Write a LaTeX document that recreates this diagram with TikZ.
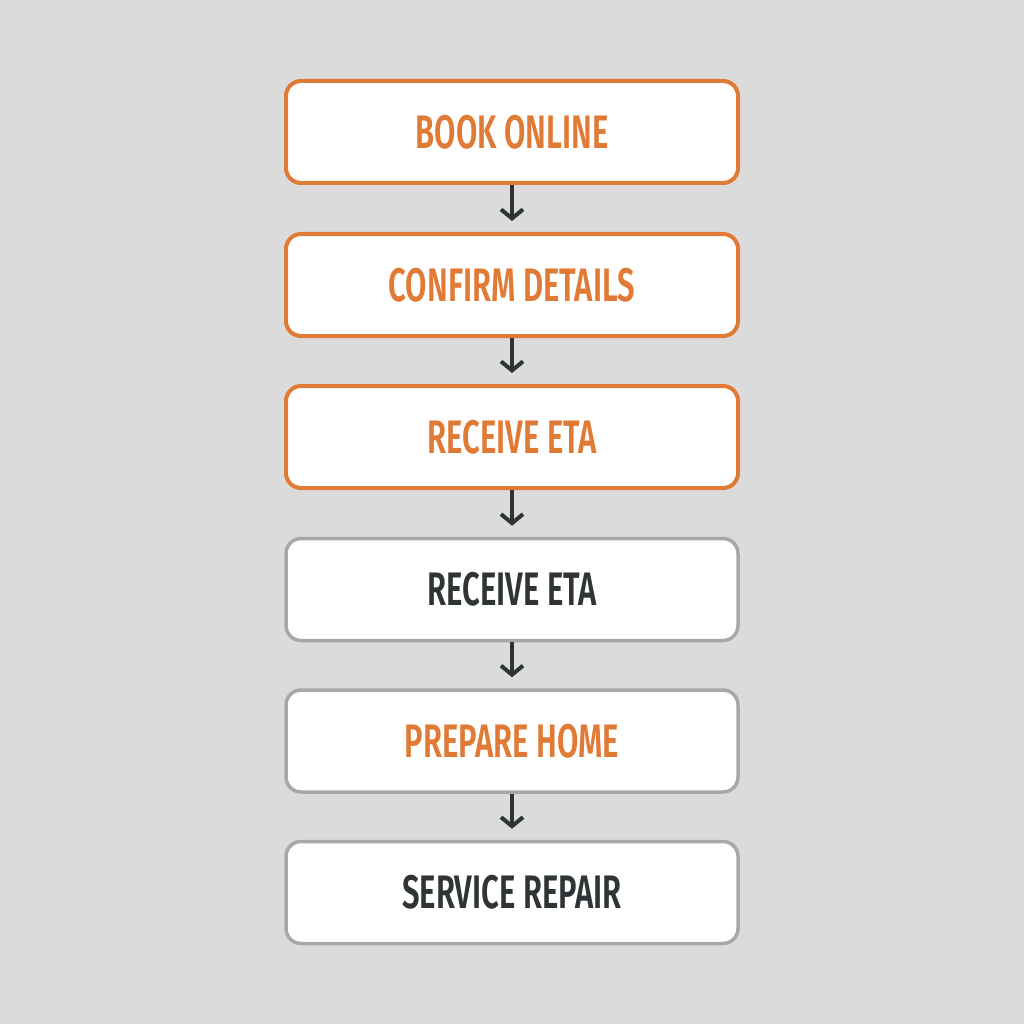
\documentclass[tikz,border=0pt]{standalone}
\usepackage{fontspec}
\setmainfont[FakeStretch=0.66]{Fira Sans}
\newfontfamily\boxfont[FakeStretch=0.66]{Fira Sans SemiBold}
\usetikzlibrary{arrows.meta}
\definecolor{bg}{RGB}{219,219,219}
\definecolor{orng}{RGB}{224,122,52}
\definecolor{grayb}{RGB}{168,168,168}
\definecolor{darkt}{RGB}{47,53,54}
\tikzset{
  box/.style={draw, fill=white, rounded corners=15pt, minimum width=452pt, minimum height=102pt,
    line width=4pt, font=\fontsize{47}{50}\boxfont, inner sep=0pt},
  obox/.style={box, draw=orng, text=orng},
  gbox/.style={box, draw=grayb, line width=3.5pt},
  otext/.style={text=orng},
  dtext/.style={text=darkt},
  arr/.style={draw=darkt, line width=4pt, shorten >=11pt,
    -{Straight Barb[length=9pt,width=22pt,line width=4pt]}}
}
\begin{document}
\begin{tikzpicture}[x=1pt,y=-1pt]
\fill[bg] (0,0) rectangle (1024,1024);
\useasboundingbox (0,0) rectangle (1024,1024);
\node[obox] (b1) at (512,132) {BOOK ONLINE};
\node[obox] (b2) at (512,285) {CONFIRM DETAILS};
\node[obox] (b3) at (512,437) {RECEIVE ETA};
\node[gbox, dtext] (b4) at (512,589.5) {RECEIVE ETA};
\node[gbox, otext] (b5) at (512,741) {PREPARE HOME};
\node[gbox, dtext] (b6) at (512,892.5) {SERVICE REPAIR};
\draw[arr] (b1.south) -- (b2.north);
\draw[arr] (b2.south) -- (b3.north);
\draw[arr] (b3.south) -- (b4.north);
\draw[arr] (b4.south) -- (b5.north);
\draw[arr] (b5.south) -- (b6.north);
\end{tikzpicture}
\end{document}
